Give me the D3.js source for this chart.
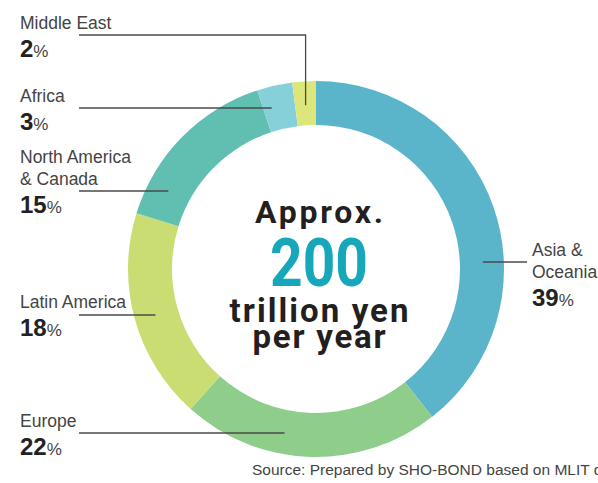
<!DOCTYPE html>
<html>
<head>
<meta charset="utf-8">
<script src="https://cdn.jsdelivr.net/npm/d3@7"></script>
<style>
  html, body { margin: 0; padding: 0; background: #fff; overflow: hidden; }
  svg { display: block; }
</style>
</head>
<body>
<div id="chart"></div>
<script>
// data
const regions = ["Asia & Oceania", "Europe", "Latin America", "North America & Canada", "Africa", "Middle East"]
const shares = [39, 22, 18, 15, 3, 2]
const colors = ["#5ab5cb", "#8fcd8b", "#c9dd73", "#61bfb2", "#85d0d9", "#dde67b"]

// label lines (text rows) for each region
const labelLines = [["Asia &", "Oceania"], ["Europe"], ["Latin America"], ["North America", "& Canada"], ["Africa"], ["Middle East"]]

const centerLines = ["Approx.", "200", "trillion yen", "per year"]
const sourceText = "Source: Prepared by SHO-BOND based on MLIT data"

const width = 598
const height = 483
const cx = 316, cy = 269
const outerR = 188, innerR = 144
const midR = 167

const svg = d3.select("#chart").append("svg")
	.attr("width", width)
	.attr("height", height)

const pie = d3.pie().sort(null).value(d => d)
const arcs = pie(shares)
const arc = d3.arc().innerRadius(innerR).outerRadius(outerR)

const ring = svg.append("g").attr("transform", `translate(${cx},${cy})`)

ring.selectAll("path")
	.data(arcs)
	.enter()
	.append("path")
	.attr("d", arc)
	.attr("fill", (d, i) => colors[i])

// label layout: side, x of text, baseline of first line, y of leader line
const layout = [
	{ side: "right", x: 532, y: 256, lineY: 262 },
	{ side: "left", x: 20, y: 427, lineY: 433 },
	{ side: "left", x: 20, y: 308, lineY: 315 },
	{ side: "left", x: 20, y: 163, lineY: 191 },
	{ side: "left", x: 20, y: 102, lineY: 108 },
	{ side: "left", x: 20, y: 29, lineY: 35, elbow: true }
]

const lineGap = 22
const pctGap = 28

const labels = svg.append("g").attr("class", "labels")

arcs.forEach(function(a, i) {
	const L = layout[i]
	const g = labels.append("g")

	labelLines[i].forEach(function(t, j) {
		g.append("text")
			.attr("x", L.x)
			.attr("y", L.y + j * lineGap)
			.attr("font-family", "'Liberation Sans', Arial, sans-serif")
			.attr("font-size", 17.5)
			.attr("fill", "#444")
			.text(t)
	})

	const pctY = L.y + (labelLines[i].length - 1) * lineGap + pctGap
	const pct = g.append("text")
		.attr("x", L.x)
		.attr("y", pctY)
		.attr("font-family", "'Liberation Sans', Arial, sans-serif")
		.attr("fill", "#222")
	pct.append("tspan")
		.attr("font-size", 24)
		.attr("font-weight", "bold")
		.text(shares[i])
	pct.append("tspan")
		.attr("font-size", 17)
		.attr("fill", "#444")
		.text("%")

	// leader line
	let path
	if (L.elbow) {
		const ang = (a.startAngle + a.endAngle) / 2
		const ex = cx + (midR - 3) * Math.sin(ang)
		const ey = cy - (midR - 3) * Math.cos(ang)
		path = `M${79},${L.lineY}H${ex}V${ey}`
	} else {
		const dy = L.lineY - cy
		const dx = Math.sqrt(midR * midR - dy * dy)
		if (L.side === "left") {
			path = `M${79},${L.lineY}H${cx - dx}`
		} else {
			path = `M${cx + dx},${L.lineY}H${L.x - 5}`
		}
	}
	g.append("path")
		.attr("d", path)
		.attr("fill", "none")
		.attr("stroke", "#4a4a4a")
		.attr("stroke-width", 1.3)
})

// center text
const center = svg.append("g").attr("class", "center")
const centerStyle = [
	{ y: 223, size: 32, len: 128, fill: "#231f20", adjust: "spacing" },
	{ y: 286, size: 66, len: 98, fill: "#16a7ba", adjust: "spacingAndGlyphs" },
	{ y: 322, size: 33, len: 179, fill: "#231f20", adjust: "spacing" },
	{ y: 348, size: 33, len: 133, fill: "#231f20", adjust: "spacing" }
]
centerLines.forEach(function(t, i) {
	const s = centerStyle[i]
	center.append("text")
		.attr("x", 319 - s.len / 2)
		.attr("y", s.y)
		.attr("font-family", "Roboto, 'DejaVu Sans', sans-serif")
		.attr("font-weight", "bold")
		.attr("font-size", s.size)
		.attr("fill", s.fill)
		.attr("textLength", s.len)
		.attr("lengthAdjust", s.adjust)
		.text(t)
})

svg.append("text")
	.attr("x", 252)
	.attr("y", 475)
	.attr("font-family", "'Liberation Sans', Arial, sans-serif")
	.attr("font-size", 15.5)
	.attr("fill", "#444")
	.text(sourceText)
</script>
</body>
</html>
